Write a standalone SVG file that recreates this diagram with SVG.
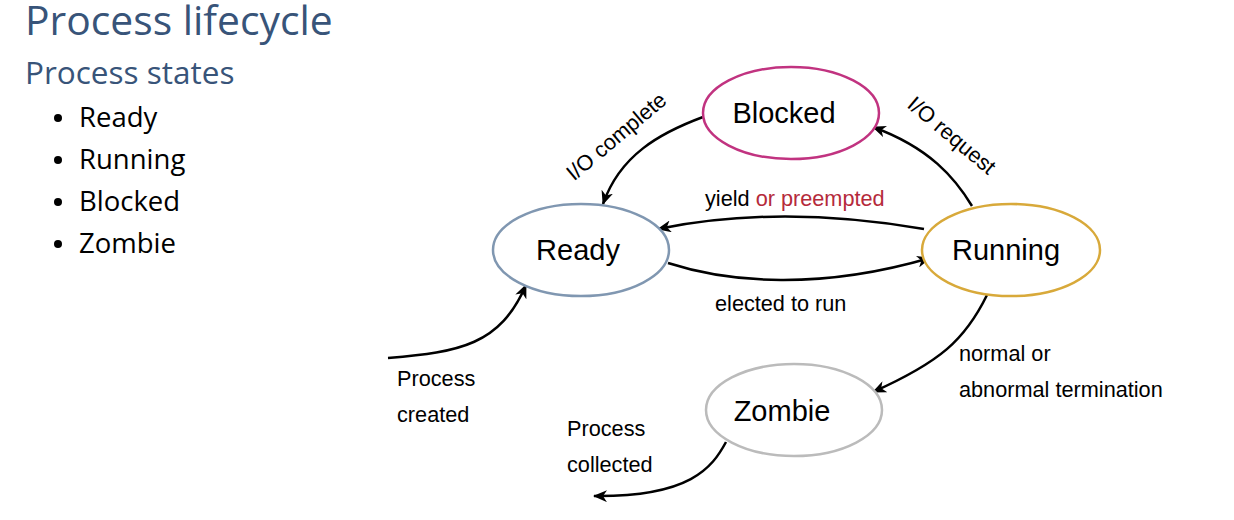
<svg xmlns="http://www.w3.org/2000/svg" width="1234" height="520" viewBox="0 0 1234 520">
<style>
.h1{font-family:"Open Sans","Noto Sans",sans-serif;font-size:40.8px;fill:#385479}
.h2{font-family:"Open Sans","Noto Sans",sans-serif;font-size:31.5px;fill:#385479}
.li{font-family:"Open Sans","Noto Sans",sans-serif;font-size:27.5px;fill:#000}
.node{fill:#fff;stroke-width:2.5}
.nl{font-family:"Liberation Sans",Arial,sans-serif;font-size:29px;fill:#000;text-anchor:middle}
.el{font-family:"Liberation Sans",Arial,sans-serif;font-size:21.7px;fill:#000}
.edge{fill:none;stroke:#000;stroke-width:2.5;marker-end:url(#arr)}
</style>
<defs>
<marker id="arr" viewBox="0 0 14 12" refX="13" refY="6" markerWidth="14" markerHeight="12" markerUnits="userSpaceOnUse" orient="auto">
<path d="M0,0 L14,6 L0,12 L4,6 z" fill="#000"/>
</marker>
</defs>
<g id="heading">
<text class="h1" x="25" y="35">Process lifecycle</text>
<text class="h2" x="25" y="84">Process states</text>
<circle cx="58" cy="118" r="4"/>
<text class="li" x="79" y="127">Ready</text>
<circle cx="58" cy="160" r="4"/>
<text class="li" x="79" y="169">Running</text>
<circle cx="58" cy="202" r="4"/>
<text class="li" x="79" y="211">Blocked</text>
<circle cx="58" cy="244" r="4"/>
<text class="li" x="79" y="253">Zombie</text>
</g>
<g id="connectors">
<path class="edge" d="M703,117 C660,133 620,155 603,204"/>
<path class="edge" d="M972,206 C955,178 930,148 873,127"/>
<path class="edge" d="M924,229 C860,218 760,208 658,229"/>
<path class="edge" d="M668,263 C730,283 820,290 930,258"/>
<path class="edge" d="M987,295 C965,340 940,362 873,392"/>
<path class="edge" d="M388,358 C460,352 500,345 526,285"/>
<path class="edge" d="M726,442 C712,468 690,497 594,496"/>
<text class="el" text-anchor="middle" transform="translate(621,142) rotate(-40)">I/O complete</text>
<text class="el" text-anchor="middle" transform="translate(947,141) rotate(40)">I/O request</text>
<text class="el" x="705" y="206">yield <tspan fill="#b52a3b">or preempted</tspan></text>
<text class="el" x="715" y="311">elected to run</text>
<text class="el" x="959" y="361">normal or</text>
<text class="el" x="959" y="397">abnormal termination</text>
<text class="el" x="397" y="386">Process</text>
<text class="el" x="397" y="422">created</text>
<text class="el" x="567" y="436">Process</text>
<text class="el" x="567" y="472">collected</text>
</g>
<g id="blocked">
<ellipse class="node" cx="791" cy="113" rx="88" ry="46" stroke="#c13380"/>
<text class="nl" x="784" y="123">Blocked</text>
</g>
<g id="ready">
<ellipse class="node" cx="581" cy="250" rx="88" ry="46" stroke="#8097b1"/>
<text class="nl" x="578" y="260">Ready</text>
</g>
<g id="running">
<ellipse class="node" cx="1011" cy="250" rx="89" ry="46" stroke="#d8a93a"/>
<text class="nl" x="1006" y="260">Running</text>
</g>
<g id="zombie">
<ellipse class="node" cx="794" cy="410" rx="88" ry="46" stroke="#bbbbbb"/>
<text class="nl" x="782" y="421">Zombie</text>
</g>
</svg>
